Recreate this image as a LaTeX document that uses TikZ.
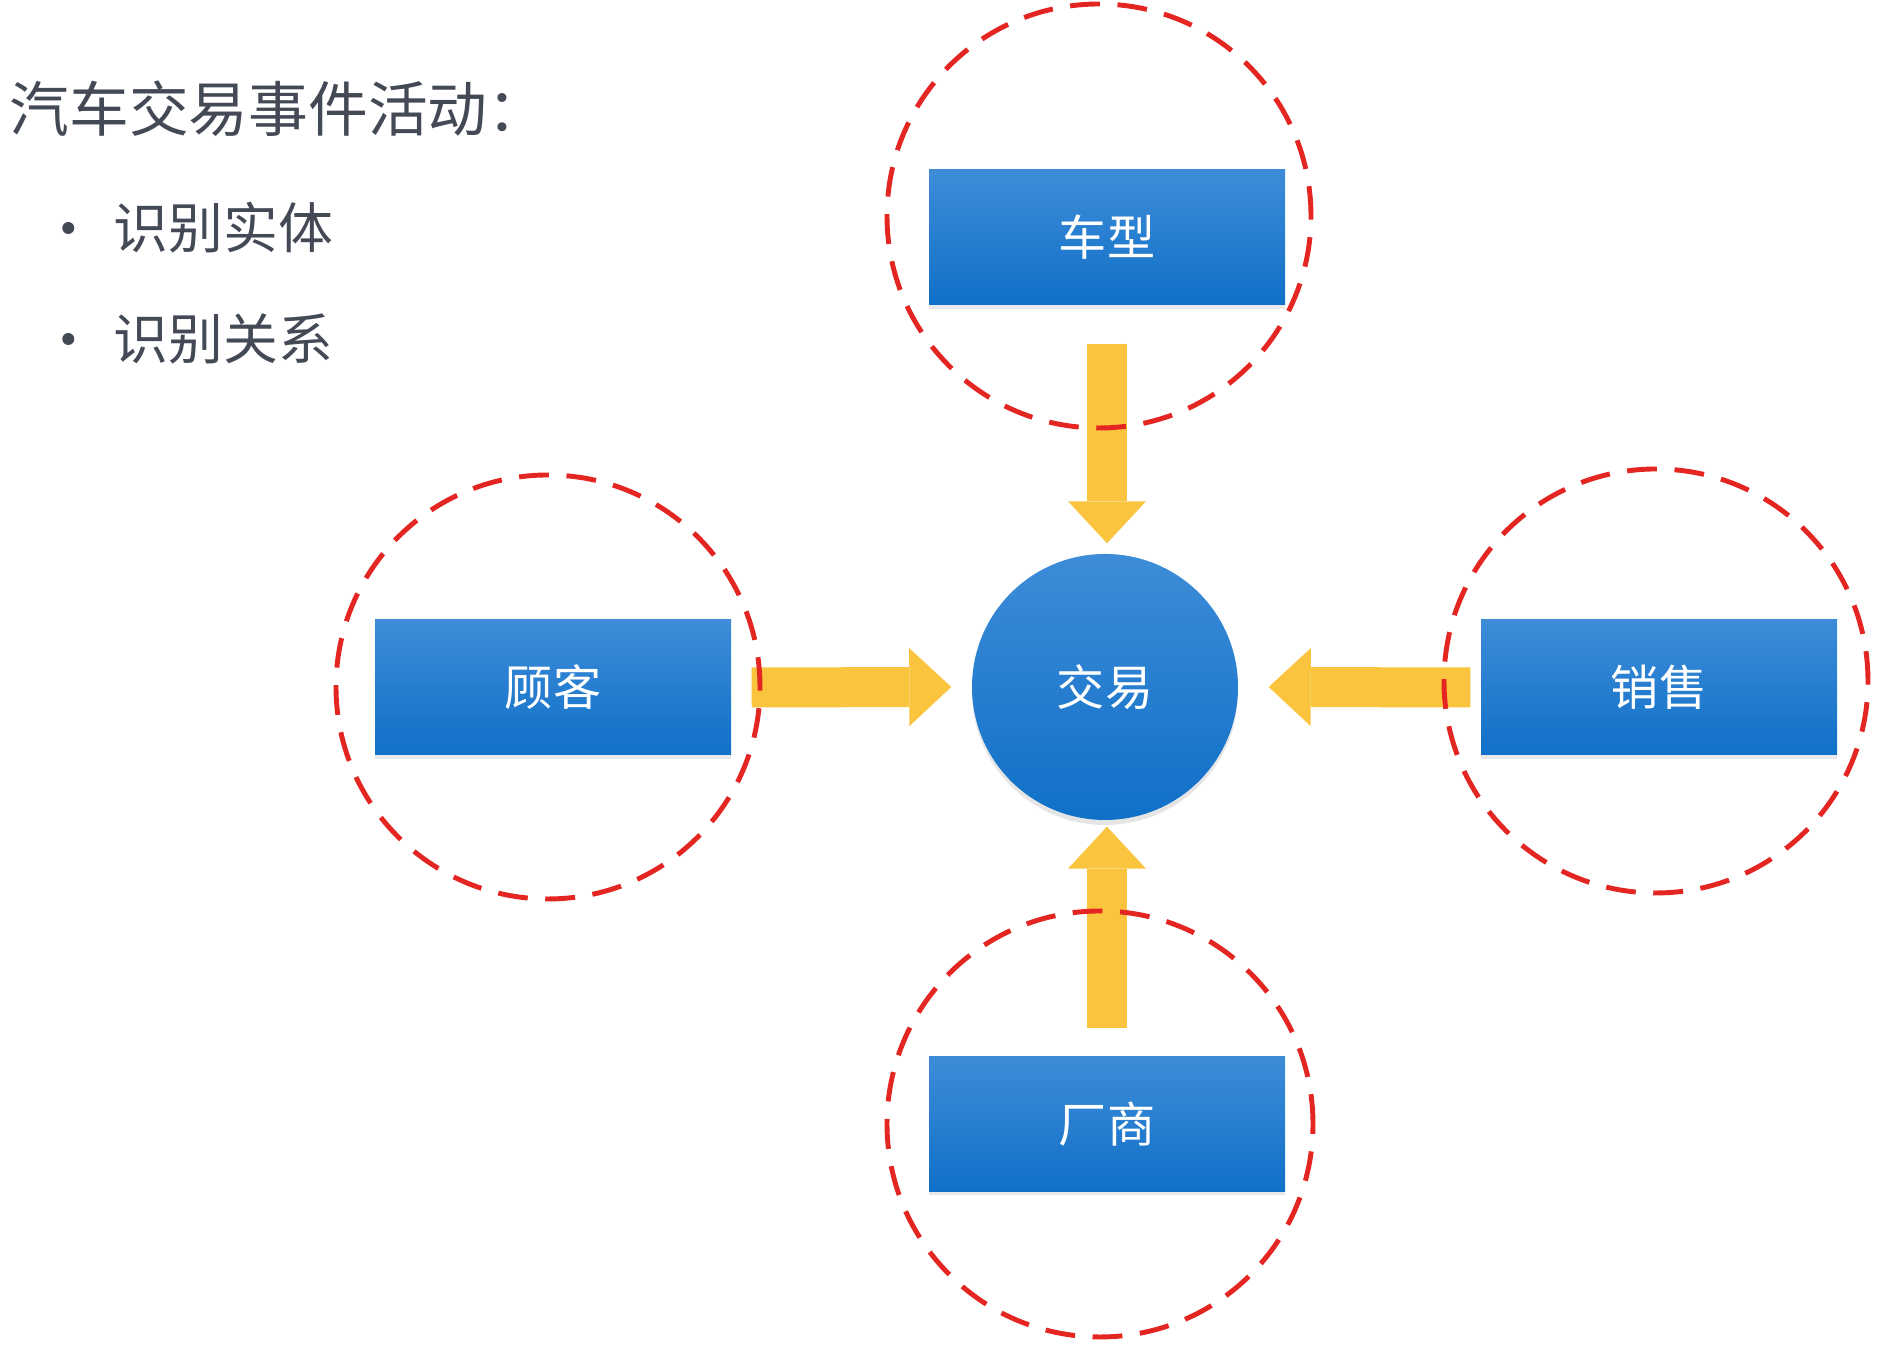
\documentclass[tikz,border=0pt]{standalone}
\usepackage{fontspec}
\setmainfont{Noto Sans CJK SC}
\usetikzlibrary{arrows.meta, positioning, calc, shadows, backgrounds}

\definecolor{boxtop}{RGB}{62,140,216}
\definecolor{boxbot}{RGB}{16,112,200}
\definecolor{arrowyel}{RGB}{250,196,62}
\definecolor{dashred}{RGB}{228,38,34}
\definecolor{txtgray}{RGB}{68,73,86}

\begin{document}
\begin{tikzpicture}[
    entity/.style={rectangle, minimum width=3.56cm, minimum height=1.35cm,
      top color=boxtop, bottom color=boxbot, text=white,
      font=\fontsize{13.7}{16}\selectfont,
      drop shadow={shadow xshift=0pt, shadow yshift=-0.04cm, opacity=0.18}},
    relation/.style={circle, minimum size=2.66cm, inner sep=0pt,
      top color=boxtop, bottom color=boxbot, text=white,
      font=\fontsize{13.7}{16}\selectfont,
      drop shadow={shadow xshift=0pt, shadow yshift=-0.05cm, opacity=0.2}},
    flow/.style={line width=0.4cm, arrowyel, line cap=butt,
      -{Triangle[length=0.42cm, width=0.78cm, line width=0pt]}},
    ring/.style={dashred, line width=1.4pt, dash pattern=on 8.5pt off 5pt},
    heading/.style={inner sep=0pt, text=txtgray, font=\fontsize{17}{20}\selectfont},
    item/.style={inner sep=0pt, text=txtgray, font=\fontsize{15.6}{18}\selectfont},
    dot/.style={circle, fill=txtgray, inner sep=0pt, minimum size=0.12cm}]
    \useasboundingbox (0,0) rectangle (18.78,13.46);

    % 标题与要点
    \node[heading, anchor=west] (title) at (0.09,12.37) {汽车交易事件活动：};
    \node[item, anchor=west] (p1) at (1.13,11.18) {识别实体};
    \node[item, anchor=west] (p2) at (1.13,10.07) {识别关系};
    \node[dot, left=0.38cm of p1] (d1) {};
    \node[dot, left=0.38cm of p2] (d2) {};

    % 实体
    \node[entity] (cx) at (11.07,11.085) {车型};
    \node[entity] (gk) at (5.53,6.585) {顾客};
    \node[entity] (xs) at (16.59,6.585) {销售};
    \node[entity] (cs) at (11.07,2.22) {厂商};

    % 关系
    \node[relation] (jy) at (11.05,6.59) {交易};

    \begin{scope}[on background layer]
      \fill[white] (0,0) rectangle (18.78,13.46);
      % 箭头
      \draw[flow] ([yshift=-0.38cm]cx.south) -- ([yshift=0.1cm]cx.south |- jy.north);
      \draw[flow] ([xshift=0.2cm]gk.east) -- ([xshift=-0.2cm]jy.west);
      \draw[flow] ([xshift=-0.1cm]xs.west) -- ([xshift=0.3cm]jy.east);
      \draw[flow] ([yshift=0.28cm]cs.north) -- ([yshift=-0.06cm]cs.north |- jy.south);
      % 虚线圈
      \draw[ring] (10.99,11.30) circle (2.12);
      \draw[ring] (5.48,6.59) circle (2.12);
      \draw[ring] (16.56,6.65) circle (2.12);
      \draw[ring] (11.00,2.22) circle (2.13);
    \end{scope}
\end{tikzpicture}
\end{document}
